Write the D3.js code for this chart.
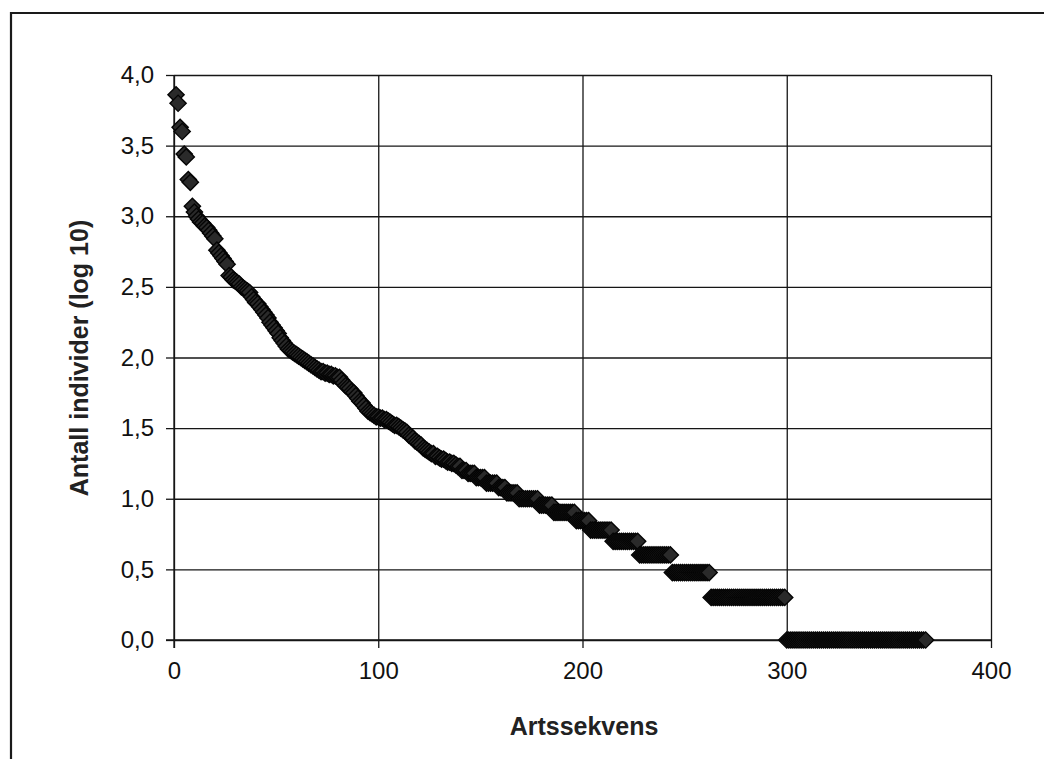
<!DOCTYPE html>
<html>
<head>
<meta charset="utf-8">
<script src="https://cdn.jsdelivr.net/npm/d3@7"></script>
<style>
  html, body { margin: 0; padding: 0; background: #fff; }
  svg { display: block; font-family: "Liberation Sans", Arial, sans-serif; }
</style>
</head>
<body>
<svg id="chart" width="1044" height="759"></svg>
<script>
// log10 of the number of individuals for the most common species, in rank order
const headLog = [
  3.86, 3.80, 3.63, 3.60, 3.44, 3.42, 3.26, 3.24, 3.07, 3.03,
  3.00, 2.98, 2.96, 2.95, 2.93, 2.92, 2.90, 2.88, 2.86, 2.84,
  2.76, 2.74, 2.72, 2.70, 2.68, 2.66, 2.58, 2.57, 2.55, 2.54,
  2.53, 2.52, 2.50, 2.49, 2.48, 2.47, 2.46, 2.43, 2.41, 2.39,
  2.38, 2.36, 2.34, 2.32, 2.30, 2.28, 2.25, 2.23, 2.21, 2.19,
  2.17, 2.14, 2.12, 2.10, 2.08, 2.06, 2.05, 2.04, 2.03, 2.02,
  2.01, 2.00, 1.99, 1.98, 1.97, 1.96, 1.95, 1.94, 1.93, 1.92,
  1.91, 1.90, 1.90, 1.89, 1.89, 1.88, 1.88, 1.87, 1.87, 1.86,
  1.86, 1.84, 1.82, 1.80, 1.79, 1.78, 1.76, 1.75, 1.73, 1.71,
  1.69, 1.68, 1.66, 1.64, 1.62, 1.61, 1.60, 1.59, 1.58, 1.58,
  1.57, 1.57, 1.56, 1.56, 1.55, 1.54, 1.53, 1.52, 1.52, 1.51,
  1.50, 1.49, 1.48, 1.47, 1.45, 1.44, 1.43, 1.41, 1.40, 1.39,
  1.38, 1.36, 1.35, 1.34, 1.33, 1.32, 1.32, 1.30, 1.30, 1.29,
  1.28, 1.28, 1.27, 1.26, 1.26, 1.25, 1.25, 1.24, 1.23, 1.23,
  1.20, 1.20, 1.20, 1.18, 1.18, 1.18, 1.18, 1.15, 1.15, 1.15,
  1.15, 1.15, 1.11, 1.11, 1.11, 1.11, 1.11, 1.11
];

// rarer species: number of individuals and how many species share that number
const tailAbundance = [12, 11, 10, 9, 8, 7, 6, 5, 4, 3, 2, 1];
const tailSpecies   = [4, 6, 10, 7, 11, 7, 11, 13, 16, 19, 37, 69];

const xTicks = [0, 100, 200, 300, 400];
const yTicks = [0, 0.5, 1.0, 1.5, 2.0, 2.5, 3.0, 3.5, 4.0];

const xTitle = "Artssekvens";
const yTitle = "Antall individer (log 10)";

// rank sequence: one point per species
const points = headLog.map((v, i) => ({ rank: i + 1, value: v }));
tailAbundance.forEach((n, k) => {
  for (let j = 0; j < tailSpecies[k]; j++) {
    points.push({ rank: points.length + 1, value: Math.log10(n) });
  }
});

const svg = d3.select("#chart");

// page frame
svg.append("path")
  .attr("d", "M11,759 L11,13 L1044,13")
  .attr("fill", "none")
  .attr("stroke", "#1a1a1a")
  .attr("stroke-width", 2.2);

const x = d3.scaleLinear().domain([0, 400]).range([174, 991]);
const y = d3.scaleLinear().domain([0, 4]).range([640, 75]);

const locale = d3.formatLocale({ decimal: ",", thousands: " ", grouping: [3], currency: ["", " kr"] });
const fmtY = locale.format(".1f");

const ink = "#161616";

// horizontal gridlines
svg.append("g")
  .attr("transform", `translate(${x(0)},0)`)
  .call(d3.axisLeft(y).tickValues(yTicks).tickSize(-(x(400) - x(0))).tickFormat(""))
  .call(g => g.select(".domain").remove())
  .call(g => g.selectAll("line").attr("stroke", ink).attr("stroke-width", 1.3));

// vertical gridlines
svg.append("g")
  .attr("transform", `translate(0,${y(0)})`)
  .call(d3.axisBottom(x).tickValues(xTicks).tickSize(-(y(0) - y(4))).tickFormat(""))
  .call(g => g.select(".domain").remove())
  .call(g => g.selectAll("line").attr("stroke", ink).attr("stroke-width", 1.3));

// y axis with outer ticks and labels
svg.append("g")
  .attr("transform", `translate(${x(0)},0)`)
  .call(d3.axisLeft(y).tickValues(yTicks).tickSize(8).tickPadding(12).tickFormat(fmtY))
  .call(g => g.select(".domain").attr("stroke", ink).attr("stroke-width", 1.3)
      .attr("d", `M0,${y(4)}V${y(0) + 8}`))
  .call(g => g.selectAll("line").attr("stroke", ink).attr("stroke-width", 1.3))
  .call(g => g.selectAll("text")
      .attr("fill", "#111")
      .attr("font-size", 24)
      .attr("font-family", "'Liberation Sans', Arial, sans-serif"));

// x axis with outer ticks and labels
svg.append("g")
  .attr("transform", `translate(0,${y(0)})`)
  .call(d3.axisBottom(x).tickValues(xTicks).tickSize(8).tickPadding(14).tickFormat(d3.format("d")))
  .call(g => g.select(".domain").attr("stroke", ink).attr("stroke-width", 1.3)
      .attr("d", `M${x(0) - 8},0H${x(400)}`))
  .call(g => g.selectAll("line").attr("stroke", ink).attr("stroke-width", 1.3))
  .call(g => g.selectAll("text")
      .attr("fill", "#111")
      .attr("font-size", 24)
      .attr("font-family", "'Liberation Sans', Arial, sans-serif"));

// diamond markers
const diamond = d3.symbol().type(d3.symbolSquare).size(132);
svg.append("g")
  .selectAll("path")
  .data(points)
  .join("path")
  .attr("d", diamond)
  .attr("transform", d => `translate(${x(d.rank)},${y(d.value)}) rotate(45)`)
  .attr("fill", "#2a2a2a")
  .attr("stroke", "#050505")
  .attr("stroke-width", 1.4);

// axis titles
svg.append("text")
  .attr("x", 584)
  .attr("y", 735)
  .attr("text-anchor", "middle")
  .attr("font-size", 25)
  .attr("font-weight", "bold")
  .attr("fill", "#222")
  .text(xTitle);

svg.append("text")
  .attr("transform", "translate(88,358) rotate(-90)")
  .attr("text-anchor", "middle")
  .attr("font-size", 25)
  .attr("font-weight", "bold")
  .attr("fill", "#222")
  .text(yTitle);
</script>
</body>
</html>
